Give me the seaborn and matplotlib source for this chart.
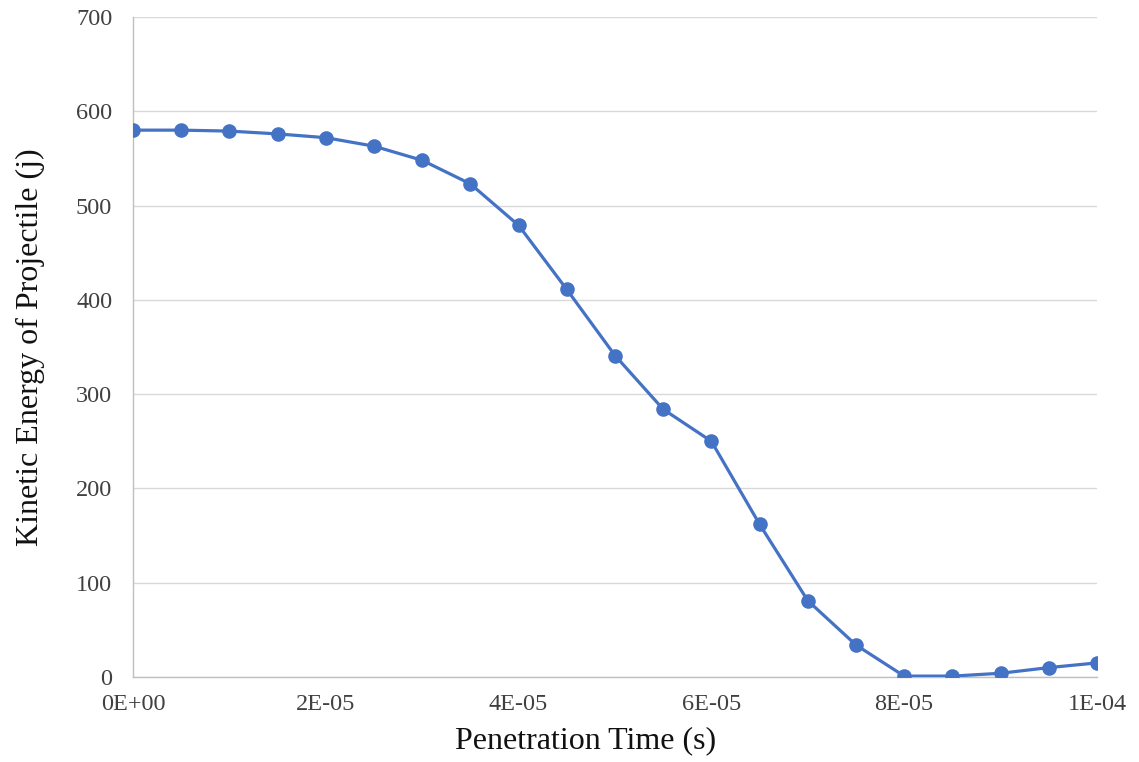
import matplotlib
matplotlib.use("Agg")
import matplotlib.pyplot as plt
import seaborn as sns
import pandas as pd
from matplotlib.ticker import FuncFormatter, MultipleLocator

# Penetration time (s) and kinetic energy of the projectile (J)
time_s = [0.0, 5e-6, 1e-5, 1.5e-5, 2e-5, 2.5e-5, 3e-5, 3.5e-5, 4e-5, 4.5e-5,
          5e-5, 5.5e-5, 6e-5, 6.5e-5, 7e-5, 7.5e-5, 8e-5, 8.5e-5, 9e-5, 9.5e-5, 1e-4]
energy_j = [580, 580, 579, 576, 572, 563, 548, 523, 479, 411,
            341, 284, 250, 162, 81, 34, 1, 1, 4, 10, 15]

x_tick_labels = ["0E+00", "2E-05", "4E-05", "6E-05", "8E-05", "1E-04"]

sns.set_theme(style="white")
plt.rcParams["font.family"] = ["Liberation Serif", "DejaVu Serif"]

df = pd.DataFrame({"t": time_s, "ke": energy_j})

fig = plt.figure(figsize=(11.39, 7.62), dpi=100)
ax = fig.add_axes([0.1168, 0.1115, 0.8463, 0.8662])

sns.lineplot(data=df, x="t", y="ke", ax=ax, color="#4472C4", linewidth=2.3,
             marker="o", markersize=10.5, markeredgewidth=0, zorder=3)

ax.set_xlim(0, 1e-4)
ax.set_ylim(0, 700)
ax.xaxis.set_major_locator(MultipleLocator(2e-5))
ax.yaxis.set_major_locator(MultipleLocator(100))
ax.xaxis.set_major_formatter(FuncFormatter(
    lambda v, p: x_tick_labels[int(round(v / 2e-5))] if 0 <= round(v / 2e-5) < len(x_tick_labels) else ""))

ax.grid(axis="y", color="#D9D9D9", linewidth=1)
ax.set_axisbelow(True)
for s in ["top", "right"]:
    ax.spines[s].set_visible(False)
for s in ["left", "bottom"]:
    ax.spines[s].set_color("#BFBFBF")
    ax.spines[s].set_linewidth(1)

ax.tick_params(axis="both", length=0, labelsize=17.5, colors="#404040")
ax.tick_params(axis="x", pad=12)
ax.tick_params(axis="y", pad=15)

ax.set_xlabel("Penetration Time (s)", fontsize=23, color="#111111")
ax.xaxis.set_label_coords(0.469, -0.074)
ax.set_ylabel("Kinetic Energy of Projectile (j)", fontsize=23, color="#111111", labelpad=22)

fig.savefig("out.png", dpi=100)
